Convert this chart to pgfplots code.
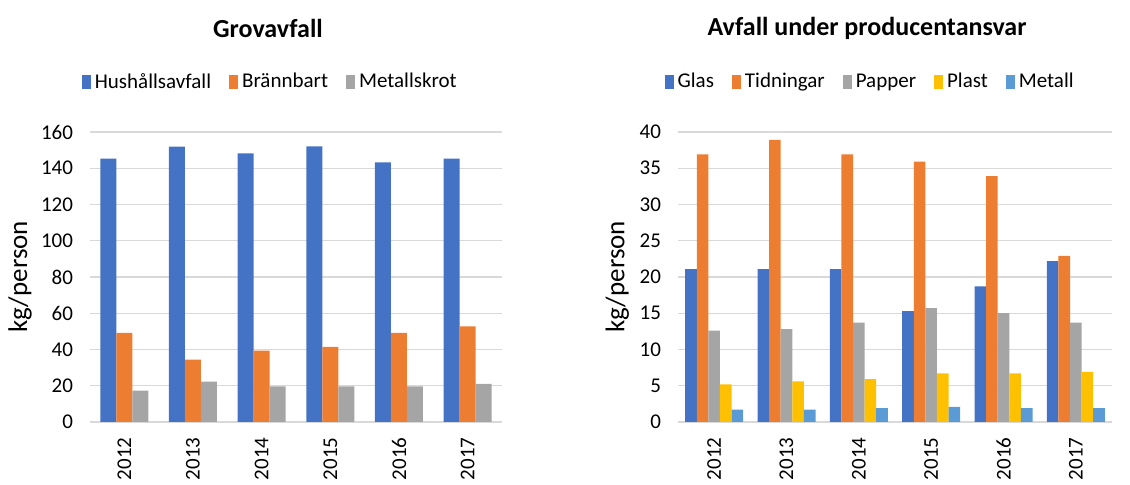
\documentclass[border=0pt]{standalone}
\usepackage{fontspec}
\setmainfont{Carlito}
\usepackage{pgfplots}
\pgfplotsset{compat=1.18}
\definecolor{cBlue}{HTML}{4472C4}
\definecolor{cOrange}{HTML}{ED7D31}
\definecolor{cGray}{HTML}{A5A5A5}
\definecolor{cYellow}{HTML}{FFC000}
\definecolor{cLBlue}{HTML}{5B9BD5}
\definecolor{cGrid}{HTML}{D9D9D9}
\pgfplotsset{
  mystyle/.style={
    scale only axis,
    anchor=south west,
    ybar=0pt,
    xmin=-0.5, xmax=5.5,
    xtick={0,1,2,3,4,5},
    xticklabels={2012,2013,2014,2015,2016,2017},
    xticklabel style={rotate=90, anchor=east, font=\fontsize{10.5}{12}\selectfont},
    yticklabel style={font=\fontsize{10.5}{12}\selectfont, xshift=-5pt},
    /pgf/number format/assume math mode=true,
    ymin=0,
    ymajorgrids,
    grid style={cGrid, line width=0.6pt},
    axis lines*=left,
    x axis line style={cGrid, line width=0.6pt},
    y axis line style={draw=none},
    major tick style={draw=none},
    ylabel={kg/person},
    ylabel style={font=\fontsize{13.5}{15}\selectfont, anchor=center},
    legend style={draw=none, fill=none, legend columns=-1, anchor=center,
      font=\fontsize{10.5}{12}\selectfont,
      /tikz/every even column/.append style={column sep=7pt}},
    legend image code/.code={\fill[##1, draw=none] (0pt,-3.5pt) rectangle (4.5pt,3.5pt);},
  }
}
\begin{document}
\begin{tikzpicture}[x=1pt,y=1pt]
\path[use as bounding box] (0,0) rectangle (565,242.5);
\begin{axis}[mystyle,
  at={(45pt,31.5pt)}, width=206pt, height=145pt,
  ymax=160, ytick={0,20,...,160},
  bar width=8pt,
  ylabel style={at={(axis description cs:-0.17,0.5)}},
  legend style={at={(0.44,1.172)}},
]
\addplot[fill=cBlue, draw=none] coordinates {(0,145.3) (1,151.9) (2,148.2) (3,152) (4,143.3) (5,145.3)};
\addplot[fill=cOrange, draw=none] coordinates {(0,49.1) (1,34.4) (2,39.4) (3,41.4) (4,49.1) (5,52.8)};
\addplot[fill=cGray, draw=none] coordinates {(0,17.3) (1,22.3) (2,19.7) (3,19.7) (4,19.7) (5,21)};
\legend{Hushållsavfall, Brännbart, Metallskrot}
\end{axis}
\begin{axis}[mystyle,
  at={(339pt,31.5pt)}, width=217pt, height=145pt,
  ymax=40, ytick={0,5,...,40},
  bar width=5.8pt,
  ylabel style={at={(axis description cs:-0.14,0.5)}},
  legend style={at={(0.445,1.172)}},
]
\addplot[fill=cBlue, draw=none] coordinates {(0,21.1) (1,21.1) (2,21.1) (3,15.3) (4,18.7) (5,22.2)};
\addplot[fill=cOrange, draw=none] coordinates {(0,36.9) (1,38.9) (2,36.9) (3,35.9) (4,33.9) (5,22.9)};
\addplot[fill=cGray, draw=none] coordinates {(0,12.6) (1,12.8) (2,13.7) (3,15.7) (4,15.0) (5,13.7)};
\addplot[fill=cYellow, draw=none] coordinates {(0,5.2) (1,5.6) (2,5.9) (3,6.7) (4,6.7) (5,6.9)};
\addplot[fill=cLBlue, draw=none] coordinates {(0,1.7) (1,1.7) (2,1.9) (3,2.1) (4,1.9) (5,1.9)};
\legend{Glas, Tidningar, Papper, Plast, Metall}
\end{axis}
\node[font=\bfseries\fontsize{13}{15}\selectfont] at (134,228.5) {Grovavfall};
\node[font=\bfseries\fontsize{13}{15}\selectfont] at (433.5,228.5) {Avfall under producentansvar};
\end{tikzpicture}
\end{document}
